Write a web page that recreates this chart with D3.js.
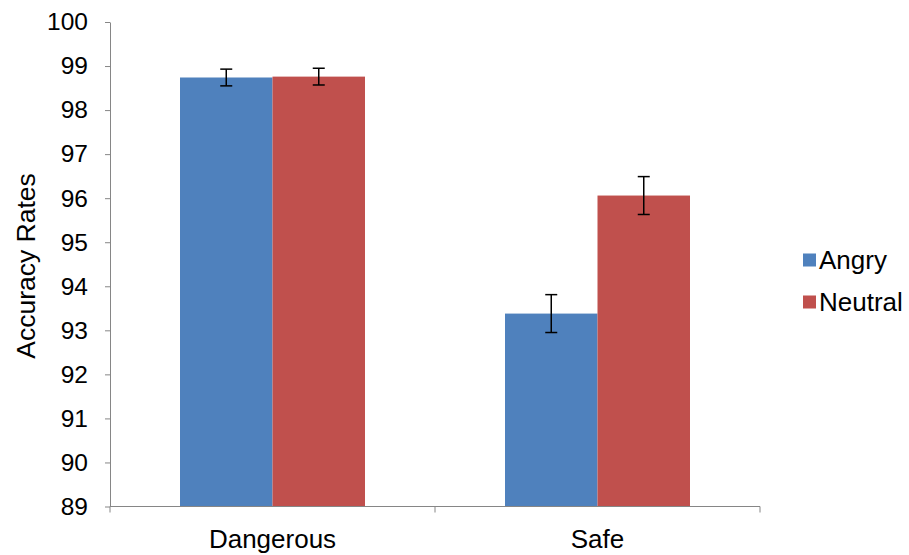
<!DOCTYPE html>
<html><head><meta charset="utf-8">
<script src="https://cdn.jsdelivr.net/npm/d3@7"></script>
<style>body{margin:0;background:#fff}svg{font-family:"Liberation Sans",Arial,sans-serif}</style>
</head><body>
<svg id="c" width="909" height="555"></svg>
<script>
const categories = ["Dangerous", "Safe"];
const seriesNames = ["Angry", "Neutral"];
const angryValues = [98.74, 93.38];
const neutralValues = [98.76, 96.06];
const angryErrors = [0.19, 0.43];
const neutralErrors = [0.19, 0.43];
const yTicks = [89, 90, 91, 92, 93, 94, 95, 96, 97, 98, 99, 100];
const colors = ["#4F81BD", "#C0504D"];

const svg = d3.select("#c");
const mLeft = 110, mRight = 760, mTop = 22, mBottom = 506.5;
const y = d3.scaleLinear().domain([89, 100]).range([mBottom, mTop]);
const x0 = d3.scaleBand().domain(categories).range([mLeft, mRight]).paddingInner(0).paddingOuter(0);
const x1 = d3.scaleBand().domain(seriesNames).range([70, x0.bandwidth() - 70]);

const data = categories.map((c, i) => ({
  cat: c,
  vals: [
    {s: seriesNames[0], v: angryValues[i], e: angryErrors[i], color: colors[0]},
    {s: seriesNames[1], v: neutralValues[i], e: neutralErrors[i], color: colors[1]}
  ]
}));

const g = svg.append("g");
const groups = g.selectAll("g.cat").data(data).join("g")
  .attr("transform", d => `translate(${x0(d.cat)},0)`);
groups.selectAll("rect").data(d => d.vals).join("rect")
  .attr("x", d => x1(d.s)).attr("width", x1.bandwidth())
  .attr("y", d => y(d.v)).attr("height", d => y(89) - y(d.v))
  .attr("fill", d => d.color);
const eb = groups.selectAll("g.eb").data(d => d.vals).join("g")
  .attr("stroke", "#000").attr("stroke-width", 1.5);
eb.append("line").attr("x1", d => x1(d.s) + x1.bandwidth()/2).attr("x2", d => x1(d.s) + x1.bandwidth()/2)
  .attr("y1", d => y(d.v + d.e)).attr("y2", d => y(d.v - d.e));
eb.append("line").attr("x1", d => x1(d.s) + x1.bandwidth()/2 - 6).attr("x2", d => x1(d.s) + x1.bandwidth()/2 + 6)
  .attr("y1", d => y(d.v + d.e)).attr("y2", d => y(d.v + d.e));
eb.append("line").attr("x1", d => x1(d.s) + x1.bandwidth()/2 - 6).attr("x2", d => x1(d.s) + x1.bandwidth()/2 + 6)
  .attr("y1", d => y(d.v - d.e)).attr("y2", d => y(d.v - d.e));

// Y axis
const yAxis = svg.append("g").attr("transform", `translate(${mLeft},0)`)
  .call(d3.axisLeft(y).tickValues(yTicks).tickSize(5).tickSizeOuter(0).tickPadding(17).tickFormat(d3.format("d")));
yAxis.select(".domain").attr("stroke", "#868686");
yAxis.selectAll(".tick line").attr("stroke", "#868686");
yAxis.selectAll(".tick text").attr("font-size", 24.5).attr("fill", "#000").attr("font-family", "Liberation Sans, Arial, sans-serif");

// X axis
const xAxisG = svg.append("g").attr("transform", `translate(0,${mBottom})`);
xAxisG.append("line").attr("x1", mLeft).attr("x2", mRight).attr("stroke", "#868686");
const bounds = [mLeft, ...categories.map(c => x0(c) + x0.bandwidth())];
xAxisG.selectAll("line.t").data(bounds).join("line").attr("class", "t")
  .attr("x1", d => d).attr("x2", d => d).attr("y1", 0).attr("y2", 6).attr("stroke", "#868686");
xAxisG.selectAll("text").data(categories).join("text")
  .attr("x", d => x0(d) + x0.bandwidth()/2).attr("y", 41.5)
  .attr("text-anchor", "middle").attr("font-size", 26).attr("fill", "#000").text(d => d);

// Y label
svg.append("text").attr("transform", `translate(35,266) rotate(-90)`)
  .attr("text-anchor", "middle").attr("font-size", 26.5).attr("fill", "#000").text("Accuracy Rates");

// Legend
const leg = svg.append("g");
const ly = d3.scalePoint().domain(seriesNames).range([260, 302]);
leg.selectAll("rect").data(seriesNames).join("rect")
  .attr("x", 803).attr("y", d => ly(d) - 6.5).attr("width", 13).attr("height", 13)
  .attr("fill", (d, i) => colors[i]);
leg.selectAll("text").data(seriesNames).join("text")
  .attr("x", 819).attr("y", d => ly(d)).attr("dy", "0.35em")
  .attr("font-size", 26).attr("fill", "#000").text(d => d);
</script>
</body></html>
